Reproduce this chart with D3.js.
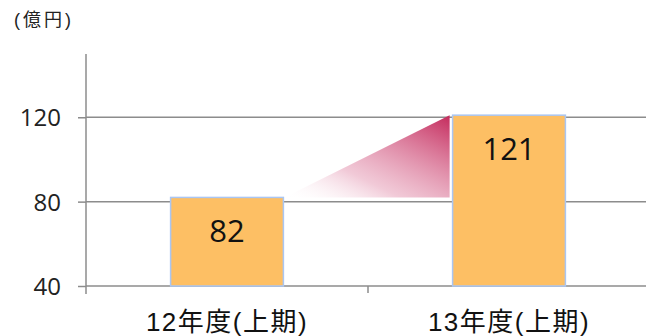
<!DOCTYPE html>
<html>
<head>
<meta charset="utf-8">
<script src="https://cdn.jsdelivr.net/npm/d3@7"></script>
<style>
  body { margin: 0; background: #fff; }
  text { font-family: "Liberation Sans", "Noto Sans CJK JP", sans-serif; }
  .num { font-family: "Open Sans", "Noto Sans", sans-serif; }
</style>
</head>
<body>
<svg id="chart" width="646" height="336"></svg>
<script>
// data
const categories = ['12年度(上期)', '13年度(上期)'];
const values = [82, 121];
const yTicks = [40, 80, 120];
const unitLabel = '(億円)';

let svg = d3.select('#chart'),
    plotLeft = 86,
    plotRight = 650,
    plotTop = 54,
    plotBottom = 286;

let x = d3.scaleBand()
    .domain(categories)
    .range([plotLeft, plotRight])
    .paddingInner(0.6)
    .paddingOuter(0.3);

let y = d3.scaleLinear()
    .domain([40, 150])
    .range([plotBottom, plotTop]);

// gradient for the growth wedge
let defs = svg.append('defs');
let grad = defs.append('linearGradient')
    .attr('id', 'wedge')
    .attr('x1', 0).attr('y1', 1)
    .attr('x2', 1).attr('y2', 0);
grad.append('stop').attr('offset', '0%').attr('stop-color', '#fff').attr('stop-opacity', 0);
grad.append('stop').attr('offset', '35%').attr('stop-color', '#e8a6bd').attr('stop-opacity', 0.6);
grad.append('stop').attr('offset', '100%').attr('stop-color', '#c42a5c').attr('stop-opacity', 1);

// gridlines
svg.append('g')
    .selectAll('line')
    .data(yTicks)
    .enter().append('line')
    .attr('x1', plotLeft)
    .attr('x2', plotRight)
    .attr('y1', function (d) { return y(d); })
    .attr('y2', function (d) { return y(d); })
    .attr('stroke', '#8c8c8c')
    .attr('stroke-width', 1.5);

// y axis
let yAxis = svg.append('g')
    .attr('transform', 'translate(' + plotLeft + ',0)')
    .call(d3.axisLeft(y).tickValues(yTicks).tickSize(8).tickPadding(17));
yAxis.select('.domain').remove();
yAxis.append('line')
    .attr('x1', 0).attr('x2', 0)
    .attr('y1', plotTop).attr('y2', plotBottom + 8)
    .attr('stroke', '#8c8c8c')
    .attr('stroke-width', 1.5);
yAxis.selectAll('.tick line').attr('stroke', '#8c8c8c').attr('stroke-width', 1.5);
yAxis.selectAll('.tick text')
    .attr('class', 'num')
    .attr('fill', '#222')
    .style('font-size', '24px')
    .attr('dy', '0.35em');

// category divider tick
svg.append('line')
    .attr('x1', x(categories[1]) - x.step() * x.paddingInner() / 2)
    .attr('x2', x(categories[1]) - x.step() * x.paddingInner() / 2)
    .attr('y1', plotBottom)
    .attr('y2', plotBottom + 7)
    .attr('stroke', '#8c8c8c')
    .attr('stroke-width', 1.5);

// wedge between the bars
let wx0 = x(categories[0]) + x.bandwidth() + 1,
    wx1 = x(categories[1]) - 3;
svg.append('path')
    .attr('d', 'M' + wx0 + ',' + y(values[0]) + 'L' + wx1 + ',' + y(values[1]) + 'L' + wx1 + ',' + y(values[0]) + 'Z')
    .attr('fill', 'url(#wedge)');

// bars
svg.append('g')
    .selectAll('rect')
    .data(values)
    .enter().append('rect')
    .attr('x', function (d, i) { return x(categories[i]); })
    .attr('y', function (d) { return y(d); })
    .attr('width', x.bandwidth())
    .attr('height', function (d) { return plotBottom - y(d); })
    .attr('fill', '#fdbf64')
    .attr('stroke', '#aac6f2')
    .attr('stroke-width', 1.5);

// value labels
svg.append('g')
    .selectAll('text')
    .data(values)
    .enter().append('text')
    .attr('class', 'num')
    .attr('x', function (d, i) { return x(categories[i]) + x.bandwidth() / 2; })
    .attr('y', function (d) { return y(d) + 34; })
    .attr('dy', '0.35em')
    .attr('text-anchor', 'middle')
    .attr('fill', '#111')
    .style('font-size', '31px')
    .text(function (d) { return d; });

// category labels
svg.append('g')
    .selectAll('text')
    .data(categories)
    .enter().append('text')
    .attr('x', function (d) { return x(d) + x.bandwidth() / 2; })
    .attr('y', 322)
    .attr('dy', '0.35em')
    .attr('text-anchor', 'middle')
    .attr('fill', '#111')
    .style('font-size', '26px')
    .style('letter-spacing', '1.5px')
    .text(function (d) { return d; });

// unit
svg.append('text')
    .attr('x', 14)
    .attr('y', 20)
    .attr('dy', '0.35em')
    .attr('fill', '#222')
    .style('font-size', '18px')
    .style('letter-spacing', '3px')
    .text(unitLabel);
</script>
</body>
</html>
